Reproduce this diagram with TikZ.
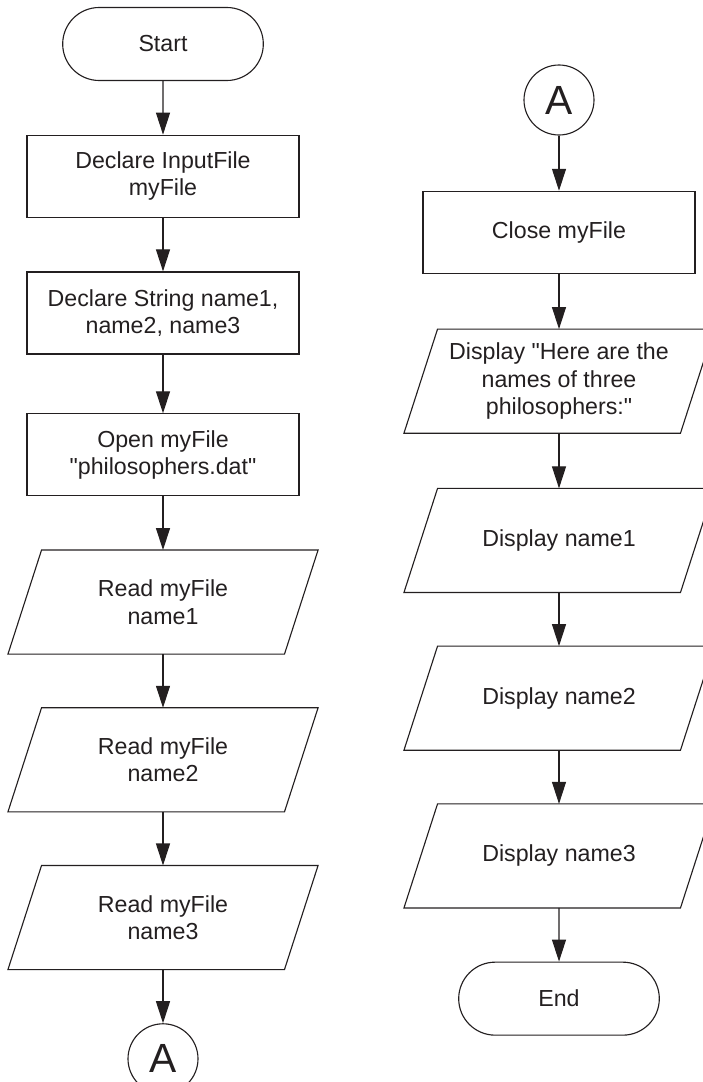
\documentclass[tikz,border=0pt]{standalone}
\usepackage{fontspec}
\setmainfont{Liberation Sans}[Ligatures=TeXOff]
\usepackage{xcolor}
\usepackage{tikz}
\usetikzlibrary{arrows.meta, positioning, shapes.geometric, shapes.misc}

\definecolor{inkgray}{HTML}{231F20}

\begin{document}
\begin{tikzpicture}[
      node distance=1.34cm,
      every node/.style={draw=inkgray, text=inkgray, line width=0.8pt, align=center, font=\fontsize{16.5}{19.5}\selectfont},
      term/.style={rounded rectangle, minimum width=5.25cm, minimum height=1.825cm},
      proc/.style={rectangle, minimum width=6.8cm, minimum height=2.05cm},
      io/.style={rectangle, draw=none, minimum width=7.725cm, minimum height=2.575cm,
        append after command={\pgfextra{
          \draw[inkgray, line width=0.8pt, line join=miter]
            ([xshift=0.84cm]\tikzlastnode.north west) -- (\tikzlastnode.north east)
            -- ([xshift=-0.84cm]\tikzlastnode.south east) -- (\tikzlastnode.south west) -- cycle;}}},
      conn/.style={circle, minimum size=1.75cm, inner sep=0pt, font=\fontsize{29}{30}\selectfont},
      flow/.style={-{Triangle[length=0.55cm, width=0.35cm]}, draw=inkgray, line width=0.8pt}
    ]
      \useasboundingbox (0,0) rectangle (17.55,-27.05);

      % left column
      \node[term] (start) at (4.075,-1.1) {Start};
      \node[proc, below=of start] (decfile) {Declare InputFile\\myFile};
      \node[proc, below=of decfile] (decnames) {Declare String name1,\\name2, name3};
      \node[proc, below=1.47cm of decnames] (openfile) {Open myFile\\"philosophers.dat"};
      \node[io, below=of openfile] (read1) {Read myFile\\name1};
      \node[io, below=of read1] (read2) {Read myFile\\name2};
      \node[io, below=of read2] (read3) {Read myFile\\name3};
      \node[conn, below=of read3] (outA) {A};

      % right column
      \node[conn] (inA) at (13.975,-2.5) {A};
      \node[proc, below=1.38cm of inA] (closefile) {Close myFile};
      \node[io, below=1.38cm of closefile] (intro) {Display "Here are the\\names of three\\philosophers:"};
      \node[io, below=1.38cm of intro] (show1) {Display name1};
      \node[io, below=of show1] (show2) {Display name2};
      \node[io, below=of show2] (show3) {Display name3};
      \node[term, below=of show3] (stop) {End};

      \foreach \a/\b in {start/decfile, decfile/decnames, decnames/openfile, openfile/read1,
                         read1/read2, read2/read3, read3/outA,
                         inA/closefile, closefile/intro, intro/show1, show1/show2, show2/show3, show3/stop}
        \draw[flow] (\a) -- (\b);
    \end{tikzpicture}
\end{document}
